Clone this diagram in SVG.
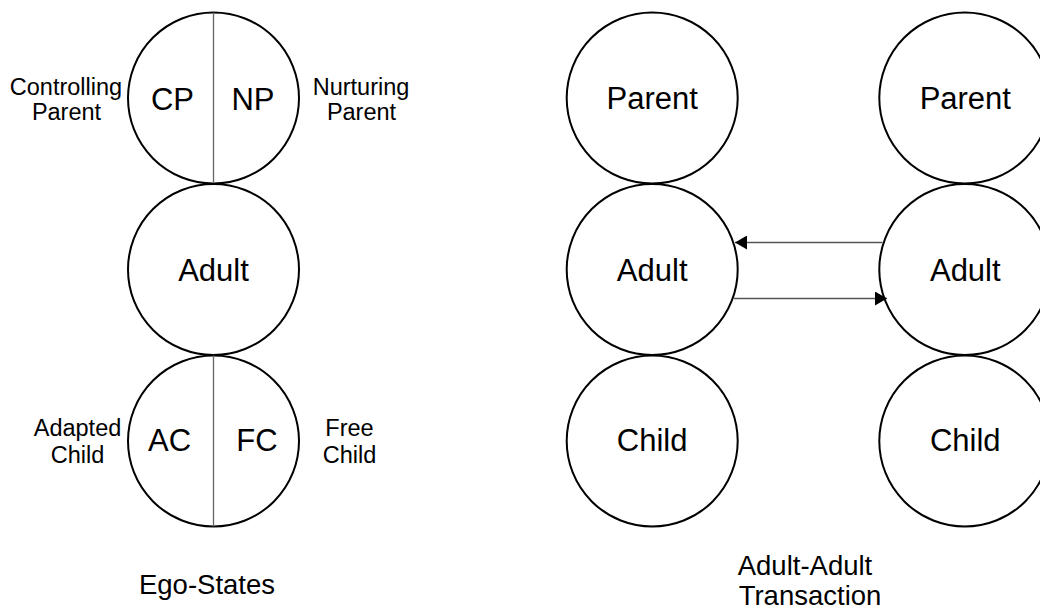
<svg xmlns="http://www.w3.org/2000/svg" width="1040" height="609" viewBox="0 0 1040 609">
<style>
.c{fill:#fff;stroke:#000;stroke-width:2}
.d{stroke:#666;stroke-width:1.3}
.big{font-family:"Liberation Sans",Arial,sans-serif;font-size:31px;fill:#000;text-anchor:middle}
.sm{font-family:"Liberation Sans",Arial,sans-serif;font-size:23.5px;fill:#000;text-anchor:middle}
.cap{font-family:"Liberation Sans",Arial,sans-serif;font-size:27.5px;fill:#000;text-anchor:middle}
.e{fill:none;stroke:#555;stroke-width:1.3}
</style>
<defs>
<marker id="ah" viewBox="0 0 12 14" markerWidth="12" markerHeight="14" refX="12" refY="7" orient="auto" markerUnits="userSpaceOnUse">
<path d="M0,0 L12,7 L0,14 z" fill="#000"/>
</marker>
</defs>
<rect width="1040" height="609" fill="#fff"/>
<g id="parent-left">
<circle class="c" cx="213.5" cy="98" r="85.5"/>
<line class="d" x1="213.5" y1="12.5" x2="213.5" y2="183.5"/>
<text class="big" x="172.5" y="110">CP</text>
<text class="big" x="253" y="110">NP</text>
</g>
<g id="label-cp">
<text class="sm" x="66" y="95">Controlling</text>
<text class="sm" x="66.5" y="120">Parent</text>
</g>
<g id="label-np">
<text class="sm" x="361" y="95">Nurturing</text>
<text class="sm" x="361.5" y="120">Parent</text>
</g>
<g id="adult-left">
<circle class="c" cx="213.5" cy="269.5" r="85.5"/>
<text class="big" x="213.5" y="280.5">Adult</text>
</g>
<g id="child-left">
<circle class="c" cx="213.5" cy="441" r="85.5"/>
<line class="d" x1="213.5" y1="355.5" x2="213.5" y2="526.5"/>
<text class="big" x="169.5" y="451">AC</text>
<text class="big" x="257" y="451">FC</text>
</g>
<g id="label-ac">
<text class="sm" x="77.5" y="436">Adapted</text>
<text class="sm" x="77.5" y="463">Child</text>
</g>
<g id="label-fc">
<text class="sm" x="349.5" y="436">Free</text>
<text class="sm" x="349.5" y="463">Child</text>
</g>
<g id="caption-ego">
<text class="cap" x="207" y="594">Ego-States</text>
</g>
<g id="parent-a">
<circle class="c" cx="652.2" cy="98" r="85.5"/>
<text class="big" x="652.2" y="108.5">Parent</text>
</g>
<g id="adult-a">
<circle class="c" cx="652.2" cy="269.5" r="85.5"/>
<text class="big" x="652.2" y="280.5">Adult</text>
</g>
<g id="child-a">
<circle class="c" cx="652.2" cy="441" r="85.5"/>
<text class="big" x="652.2" y="451">Child</text>
</g>
<g id="parent-b">
<circle class="c" cx="964.8" cy="98" r="85.5"/>
<text class="big" x="965.3" y="108.5">Parent</text>
</g>
<g id="adult-b">
<circle class="c" cx="964.8" cy="269.5" r="85.5"/>
<text class="big" x="965.3" y="280.5">Adult</text>
</g>
<g id="child-b">
<circle class="c" cx="964.8" cy="441" r="85.5"/>
<text class="big" x="965.3" y="451">Child</text>
</g>
<g id="caption-transaction">
<text class="cap" x="805" y="574.5">Adult-Adult</text>
<text class="cap" x="810" y="605">Transaction</text>
</g>
<g id="connectors">
<path class="e" d="M882.5,242.5 L735,242.5" marker-end="url(#ah)"/>
<path class="e" d="M734,298.5 L887,298.5" marker-end="url(#ah)"/>
</g>
</svg>
